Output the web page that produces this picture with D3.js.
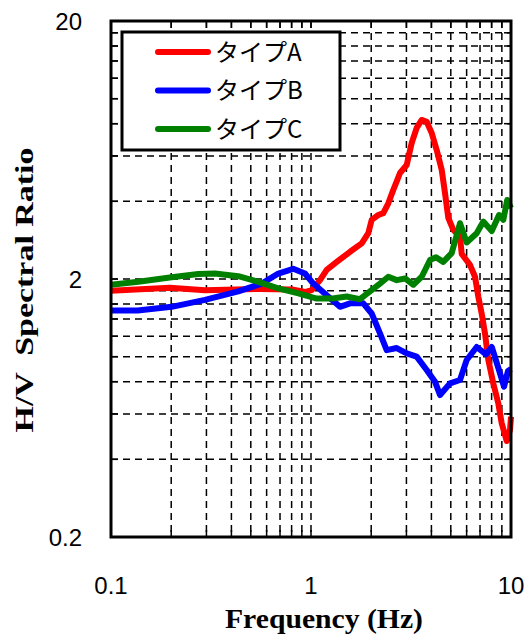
<!DOCTYPE html>
<html>
<head>
<meta charset="utf-8">
<script src="https://cdn.jsdelivr.net/npm/d3@7"></script>
<style>
  body { margin: 0; background: #fff; }
  svg { display: block; }
</style>
</head>
<body>
<svg id="chart" width="530" height="634"></svg>
<script>
const width = 530;
const height = 634;

// plot area
const margin = {top: 21, right: 19, bottom: 97, left: 111};
const chartWidth = width - margin.left - margin.right;
const chartHeight = height - margin.top - margin.bottom;

// series names and colours
const seriesNames = ["タイプA", "タイプB", "タイプC"];
const seriesColors = ["#ff0000", "#0000ff", "#008000"];

// [frequency Hz, H/V ratio]
const typeA = [
  [0.1, 1.80], [0.197, 1.85], [0.295, 1.81], [0.556, 1.83], [0.804, 1.82],
  [0.933, 1.78], [1.008, 1.81], [1.109, 1.98], [1.198, 2.17], [1.345, 2.33],
  [1.567, 2.55], [1.793, 2.75], [1.934, 3.01], [2.011, 3.39], [2.170, 3.54],
  [2.299, 3.60], [2.435, 3.93], [2.579, 4.43], [2.701, 4.84], [2.786, 5.15],
  [3.009, 5.53], [3.187, 6.73], [3.376, 7.70], [3.577, 8.27], [3.789, 8.14],
  [4.013, 7.36], [4.252, 6.32], [4.505, 5.29], [4.677, 4.31], [4.858, 3.45],
  [5.146, 3.10], [5.559, 2.92], [5.670, 2.50], [6.237, 2.27], [6.607, 2.04],
  [6.862, 1.71], [7.135, 1.47], [7.413, 1.23], [7.700, 0.971], [8.156, 0.788],
  [8.640, 0.659], [8.985, 0.552], [9.517, 0.471], [9.886, 0.520], [10, 0.585]
];

const typeB = [
  [0.1, 1.51], [0.136, 1.51], [0.201, 1.56], [0.295, 1.66], [0.433, 1.79],
  [0.567, 1.92], [0.686, 2.10], [0.815, 2.19], [0.933, 2.10], [1.027, 1.92],
  [1.198, 1.73], [1.396, 1.56], [1.567, 1.61], [1.826, 1.61], [2.011, 1.47],
  [2.213, 1.23], [2.39, 1.06], [2.683, 1.08], [3.009, 1.03], [3.376, 1.00],
  [3.789, 0.888], [4.169, 0.80], [4.416, 0.710], [4.955, 0.788], [5.559, 0.812],
  [6.004, 0.971], [6.737, 1.09], [7.499, 1.02], [8.012, 1.09], [8.71, 0.888],
  [9.226, 0.765], [9.66, 0.880], [10, 0.896]
];

const typeC = [
  [0.1, 1.90], [0.137, 1.95], [0.201, 2.03], [0.273, 2.09], [0.331, 2.10],
  [0.433, 2.05], [0.545, 1.95], [0.686, 1.84], [0.865, 1.76], [1.068, 1.68],
  [1.283, 1.68], [1.508, 1.71], [1.758, 1.67], [1.972, 1.79], [2.213, 1.92],
  [2.435, 2.04], [2.683, 1.98], [2.951, 2.01], [3.248, 1.90], [3.577, 2.04],
  [3.936, 2.37], [4.217, 2.43], [4.585, 2.33], [5.051, 2.52], [5.559, 3.29],
  [6.004, 2.77], [6.737, 3.01], [7.27, 3.34], [8.012, 3.07], [8.71, 3.54],
  [9.15, 3.39], [9.58, 4.05], [10, 3.77]
];

const allSeries = [typeA, typeB, typeC];

// axis ticks
const xDomain = [0.1, 10];
const yDomain = [0.2, 20];
const xLabels = [0.1, 1, 10];
const yLabels = [0.2, 2, 20];
const xGrid = [0.2, 0.3, 0.4, 0.5, 0.6, 0.7, 0.8, 0.9, 1, 2, 3, 4, 5, 6, 7, 8, 9];
const yGrid = [0.4, 0.6, 0.8, 1.0, 1.2, 1.4, 1.6, 1.8, 2, 4, 6, 8, 10, 12, 14, 16, 18];

const svg = d3.select("#chart");

const g = svg.append("g")
    .attr("transform", `translate(${margin.left},${margin.top})`);

const x = d3.scaleLog().domain(xDomain).range([0, chartWidth]);
const y = d3.scaleLog().domain(yDomain).range([chartHeight, 0]);

// dashed grid
g.append("g")
  .selectAll("line")
  .data(xGrid)
  .join("line")
    .attr("x1", d => x(d)).attr("x2", d => x(d))
    .attr("y1", 0).attr("y2", chartHeight)
    .attr("stroke", "#000")
    .attr("stroke-width", 1.5)
    .attr("stroke-dasharray", "7,5");

g.append("g")
  .selectAll("line")
  .data(yGrid)
  .join("line")
    .attr("x1", 0).attr("x2", chartWidth)
    .attr("y1", d => y(d)).attr("y2", d => y(d))
    .attr("stroke", "#000")
    .attr("stroke-width", 1.5)
    .attr("stroke-dasharray", "7,5");

// small inward ticks on every side
const tick = 7;
const tickG = g.append("g").attr("stroke", "#000").attr("stroke-width", 1.5);
xGrid.forEach(d => {
  tickG.append("line").attr("x1", x(d)).attr("x2", x(d)).attr("y1", chartHeight).attr("y2", chartHeight - tick);
  tickG.append("line").attr("x1", x(d)).attr("x2", x(d)).attr("y1", 0).attr("y2", tick);
});
yGrid.forEach(d => {
  tickG.append("line").attr("y1", y(d)).attr("y2", y(d)).attr("x1", 0).attr("x2", tick);
  tickG.append("line").attr("y1", y(d)).attr("y2", y(d)).attr("x1", chartWidth).attr("x2", chartWidth - tick);
});

// curves
const line = d3.line()
    .x(d => x(d[0]))
    .y(d => y(d[1]));

g.append("g")
  .selectAll("path")
  .data(allSeries)
  .join("path")
    .attr("d", line)
    .attr("fill", "none")
    .attr("stroke", (d, i) => seriesColors[i])
    .attr("stroke-width", 6)
    .attr("stroke-linejoin", "round");

// frame
g.append("rect")
    .attr("width", chartWidth)
    .attr("height", chartHeight)
    .attr("fill", "none")
    .attr("stroke", "#000")
    .attr("stroke-width", 3);

// tick labels
const tickFont = "'Liberation Sans', Arial, sans-serif";
g.append("g")
  .selectAll("text")
  .data(xLabels)
  .join("text")
    .attr("x", d => x(d))
    .attr("y", chartHeight + 57)
    .attr("text-anchor", "middle")
    .attr("font-family", tickFont)
    .attr("font-size", 24)
    .text(d => d);

g.append("g")
  .selectAll("text")
  .data(yLabels)
  .join("text")
    .attr("x", -29)
    .attr("y", d => y(d))
    .attr("dy", "0.36em")
    .attr("text-anchor", "end")
    .attr("font-family", tickFont)
    .attr("font-size", 24)
    .text(d => d);

// axis titles (the reference lettering is wider than Times, so stretch it)
svg.append("text")
    .attr("x", 324)
    .attr("y", 628)
    .attr("text-anchor", "middle")
    .attr("font-family", "'Liberation Serif', 'Times New Roman', serif")
    .attr("font-weight", "bold")
    .attr("font-size", 27)
    .attr("textLength", 198)
    .attr("lengthAdjust", "spacingAndGlyphs")
    .text("Frequency (Hz)");

svg.append("text")
    .attr("transform", "translate(33,290) rotate(-90)")
    .attr("text-anchor", "middle")
    .attr("font-family", "'Liberation Serif', 'Times New Roman', serif")
    .attr("font-weight", "bold")
    .attr("font-size", 26)
    .attr("textLength", 285)
    .attr("lengthAdjust", "spacingAndGlyphs")
    .style("white-space", "pre")
    .text("H/V  Spectral Ratio");

// legend
const legend = svg.append("g").attr("transform", "translate(122,32)");
legend.append("rect")
    .attr("width", 218)
    .attr("height", 118)
    .attr("fill", "#fff")
    .attr("stroke", "#000")
    .attr("stroke-width", 3);

const rows = legend.selectAll("g.row")
  .data(seriesNames)
  .join("g")
    .attr("class", "row")
    .attr("transform", (d, i) => `translate(0,${20 + i * 38.5})`);

rows.append("line")
    .attr("x1", 36).attr("x2", 86)
    .attr("stroke", (d, i) => seriesColors[i])
    .attr("stroke-width", 6)
    .attr("stroke-linecap", "round");

rows.append("text")
    .attr("x", 93)
    .attr("dy", "0.36em")
    .attr("font-family", "'Noto Sans CJK JP', sans-serif")
    .attr("font-size", 24)
    .text(d => d);
</script>
</body>
</html>
